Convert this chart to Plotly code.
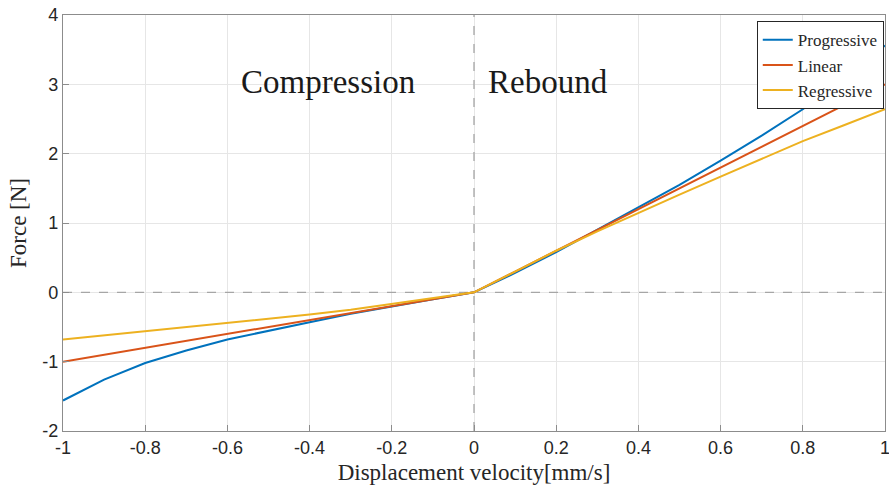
import plotly.graph_objects as go

# Displacement velocity samples [mm/s]
velocity = [-1.0, -0.9, -0.8, -0.7, -0.6, -0.5, -0.4, -0.3, -0.2, -0.1, 0.0,
            0.1, 0.2, 0.3, 0.4, 0.5, 0.6, 0.7, 0.8, 0.9, 1.0]

# Damper force [N] for each characteristic
force_progressive = [-1.56, -1.26, -1.02, -0.84, -0.68, -0.55, -0.43, -0.31, -0.20, -0.10, 0.0,
                     0.28, 0.58, 0.90, 1.22, 1.55, 1.90, 2.26, 2.64, 3.07, 3.56]
force_linear = [-1.0, -0.9, -0.8, -0.7, -0.6, -0.5, -0.4, -0.3, -0.2, -0.1, 0.0,
                0.3, 0.6, 0.9, 1.2, 1.5, 1.8, 2.1, 2.4, 2.7, 3.0]
force_regressive = [-0.68, -0.62, -0.57, -0.51, -0.45, -0.39, -0.32, -0.25, -0.17, -0.09, 0.0,
                    0.30, 0.60, 0.88, 1.15, 1.41, 1.67, 1.92, 2.18, 2.41, 2.64]

series_names = ["Progressive", "Linear", "Regressive"]
series_colors = ["#0072BD", "#D95319", "#EDB120"]

x_ticks = [-1, -0.8, -0.6, -0.4, -0.2, 0, 0.2, 0.4, 0.6, 0.8, 1]
x_tick_text = ["-1", "-0.8", "-0.6", "-0.4", "-0.2", "0", "0.2", "0.4", "0.6", "0.8", "1"]
y_ticks = [-2, -1, 0, 1, 2, 3, 4]
y_tick_text = ["-2", "-1", "0", "1", "2", "3", "4"]

serif = "Liberation Serif, DejaVu Serif, serif"
sans = "Liberation Sans, Arial, sans-serif"

fig = go.Figure()

# Dashed reference lines through the origin (above the grid, under the curves)
fig.add_shape(type="line", xref="x", yref="y", x0=-1, x1=1, y0=0, y1=0,
              line=dict(color="#a6a6a6", width=1.3, dash="dash"), layer="between")
fig.add_shape(type="line", xref="x", yref="y", x0=0, x1=0, y0=-2, y1=4,
              line=dict(color="#a6a6a6", width=1.3, dash="dash"), layer="between")

for name, ys, col in zip(series_names,
                         [force_progressive, force_linear, force_regressive],
                         series_colors):
    fig.add_trace(go.Scatter(x=velocity, y=ys, mode="lines", name=name,
                             line=dict(color=col, width=2)))

fig.add_annotation(x=-0.356, y=3.04, xref="x", yref="y", text="Compression",
                   showarrow=False, font=dict(family=serif, size=33, color="#1a1a1a"))
fig.add_annotation(x=0.181, y=3.04, xref="x", yref="y", text="Rebound",
                   showarrow=False, font=dict(family=serif, size=33, color="#1a1a1a"))

axis_common = dict(
    showgrid=True, gridcolor="#e6e6e6", gridwidth=1,
    zeroline=False, showline=True, linecolor="#8c8c8c", linewidth=1.2,
    mirror=True, ticks="inside", ticklen=6, tickcolor="#8c8c8c",
    tickfont=dict(family=sans, size=18, color="#262626"),
    ticklabeloverflow="allow", automargin=False,
)

fig.update_xaxes(range=[-1, 1], tickvals=x_ticks, ticktext=x_tick_text,
                 title=dict(text="Displacement velocity[mm/s]",
                            font=dict(family=serif, size=23, color="#262626"),
                            standoff=7),
                 **axis_common)
fig.update_yaxes(range=[-2, 4], tickvals=y_ticks, ticktext=y_tick_text,
                 title=dict(text="Force [N]",
                            font=dict(family=serif, size=23, color="#262626"),
                            standoff=9),
                 **axis_common)

fig.update_layout(
    width=889, height=489,
    margin=dict(l=63, r=4, t=15, b=58, autoexpand=False),
    plot_bgcolor="white", paper_bgcolor="white",
    showlegend=True,
    legend=dict(x=0.9985, y=0.985, xanchor="right", yanchor="top",
                bgcolor="white", bordercolor="#262626", borderwidth=1,
                font=dict(family=serif, size=17, color="#262626"),
                tracegroupgap=0, itemwidth=30),
)

fig.write_html("out.html")
